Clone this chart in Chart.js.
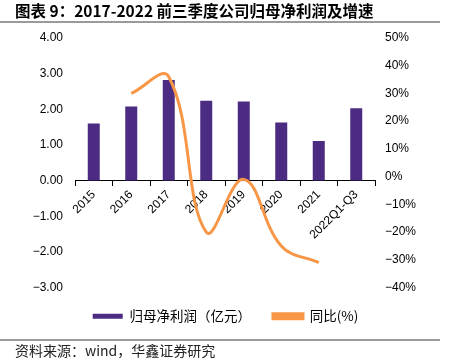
<!DOCTYPE html>
<html>
<head>
<meta charset="utf-8">
<script src="https://cdn.jsdelivr.net/npm/chart.js@4/dist/chart.umd.min.js"></script>
<style>
  html, body { margin: 0; padding: 0; background: #fff; }
  #wrap { position: relative; width: 451px; height: 359px; overflow: hidden; }
  #chart { position: absolute; left: 0; top: 0; }
  .title {
    position: absolute; left: 15px; top: -1px;
    font: bold 15.5px "Noto Sans CJK SC", sans-serif; color: #000; white-space: nowrap;
  }
  .rule { position: absolute; left: 0; width: 440px; height: 2px; background: #9a9a9a; }
  .source {
    position: absolute; left: 15px; top: 340px;
    font: 14px "Noto Sans CJK SC", sans-serif; color: #222; white-space: nowrap;
  }
</style>
</head>
<body>
<div id="wrap">
  <canvas id="chart" width="451" height="359"></canvas>
  <div class="title">图表 9：2017-2022 前三季度公司归母净利润及增速</div>
  <div class="rule" style="top:21px"></div>
  <div class="rule" style="top:339px"></div>
  <div class="source">资料来源：wind，华鑫证券研究</div>
</div>
<script>
// ----------------------
// DATA
// ----------------------
const categories = ["2015", "2016", "2017", "2018", "2019", "2020", "2021", "2022Q1-Q3"];
const netProfit = [1.60, 2.08, 2.82, 2.24, 2.22, 1.63, 1.11, 2.03];   // 亿元
const growth = [null, 30, 36, -20, -1, -25, -31, null];               // %

const barColor = "#4b2c82";
const lineColor = "#f79646";
const minus = (s) => s.replace("-", "\u2212");

// ----------------------
// CHART
// ----------------------
const ctx = document.getElementById("chart").getContext("2d");
new Chart(ctx, {
  type: "bar",
  data: {
    labels: categories,
    datasets: [
      {
        label: "归母净利润（亿元）",
        data: netProfit,
        backgroundColor: barColor,
        barPercentage: 0.32,
        categoryPercentage: 1,
        yAxisID: "y",
        order: 2,
      },
      {
        type: "line",
        label: "同比(%)",
        data: growth,
        borderColor: lineColor,
        backgroundColor: lineColor,
        borderWidth: 3,
        tension: 0.4,
        pointRadius: 0,
        yAxisID: "y1",
        order: 1,
      },
    ],
  },
  options: {
    responsive: false,
    animation: false,
    layout: { padding: { top: 38, bottom: 26, left: 0, right: 0 } },
    plugins: {
      title: { display: false },
      tooltip: { enabled: false },
      legend: {
        position: "bottom",
        labels: {
          boxWidth: 30,
          boxHeight: 5,
          padding: 22,
          color: "#000",
          font: { family: "'Noto Sans CJK SC', sans-serif", size: 13.5 },
          sort: (a, b) => a.datasetIndex - b.datasetIndex,
        },
      },
    },
    scales: {
      x: {
        position: { y: 0 },
        offset: true,
        border: { display: true, color: "#000", width: 1 },
        grid: { display: true, drawOnChartArea: false, offset: true, tickLength: 5, color: "#000" },
        ticks: {
          minRotation: 45,
          maxRotation: 45,
          padding: 2,
          color: "#000",
          font: { family: "'Liberation Sans', Arial, sans-serif", size: 12 },
        },
      },
      y: {
        position: "left",
        min: -3,
        max: 4,
        border: { display: false },
        grid: { display: false, drawTicks: false },
        afterFit: (scale) => { scale.width = 75; },
        ticks: {
          stepSize: 1,
          padding: 12,
          color: "#000",
          font: { family: "'Liberation Sans', Arial, sans-serif", size: 12 },
          callback: (v) => minus(v.toFixed(2)),
        },
      },
      y1: {
        position: "right",
        min: -40,
        max: 50,
        border: { display: false },
        grid: { display: false, drawTicks: false },
        afterFit: (scale) => { scale.width = 76; },
        ticks: {
          stepSize: 10,
          padding: 10,
          color: "#000",
          font: { family: "'Liberation Sans', Arial, sans-serif", size: 12 },
          callback: (v) => minus(v + "%"),
        },
      },
    },
  },
});
</script>
</body>
</html>
